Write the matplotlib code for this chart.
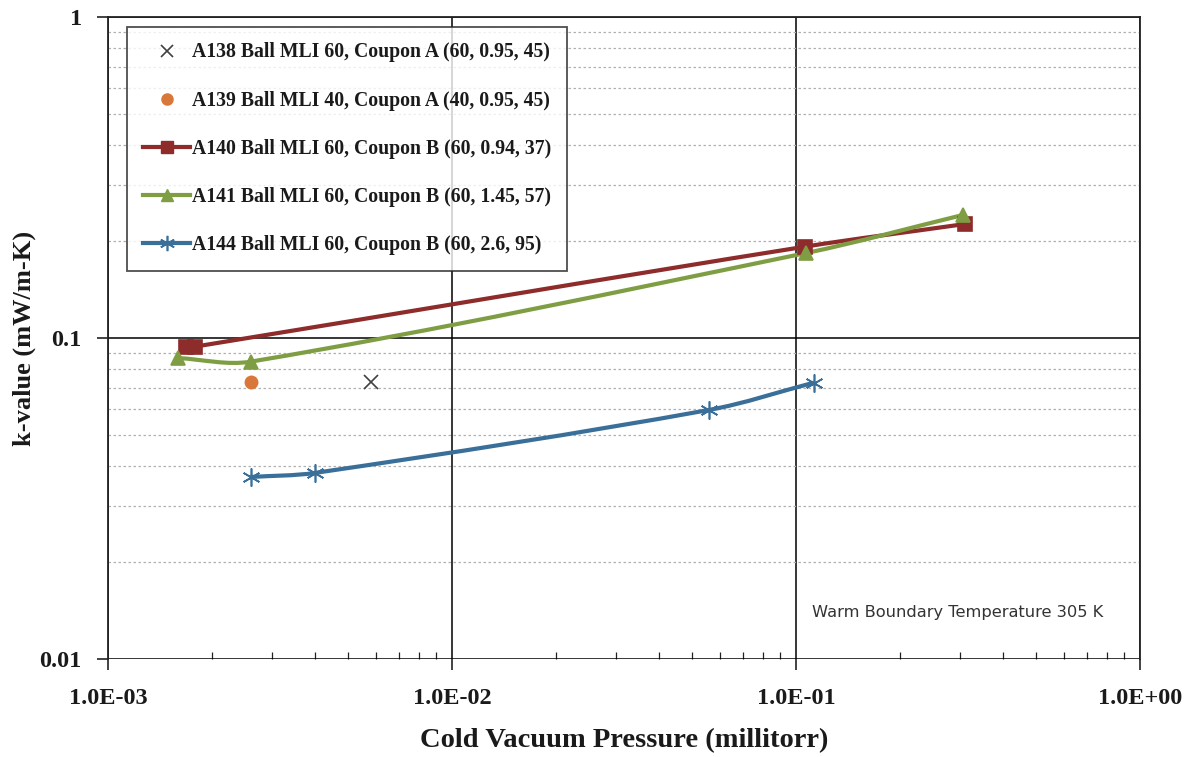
import numpy as np
import matplotlib
matplotlib.use("Agg")
from matplotlib import pyplot as plt
from matplotlib.path import Path
from matplotlib.patches import PathPatch
from matplotlib.ticker import FixedLocator, LogLocator, NullFormatter
from matplotlib.lines import Line2D

# data (pressure in millitorr, k in mW/m-K)
a138_p = [0.0058]
a138_k = [0.073]
a139_p = [0.0026]
a139_k = [0.073]
a140_p = [0.00168, 0.00179, 0.106, 0.31]
a140_k = [0.0935, 0.094, 0.1925, 0.2265]
a141_p = [0.0016, 0.0026, 0.107, 0.305]
a141_k = [0.0866, 0.0844, 0.184, 0.2416]
a144_p = [0.0026, 0.0040, 0.0559, 0.1127]
a144_k = [0.0369, 0.0380, 0.0597, 0.0726]

labels = ["A138 Ball MLI 60, Coupon A (60, 0.95, 45)",
          "A139 Ball MLI 40, Coupon A (40, 0.95, 45)",
          "A140 Ball MLI 60, Coupon B (60, 0.94, 37)",
          "A141 Ball MLI 60, Coupon B (60, 1.45, 57)",
          "A144 Ball MLI 60, Coupon B (60, 2.6, 95)"]
x_ticks = [1e-3, 1e-2, 1e-1, 1e0]
x_ticklabels = ["1.0E-03", "1.0E-02", "1.0E-01", "1.0E+00"]
y_ticks = [0.01, 0.1, 1]
y_ticklabels = ["0.01", "0.1", "1"]

c_x = "#404040"
c_orange = "#D9773A"
c_red = "#8E2B2B"
c_green = "#7F9E44"
c_blue = "#3A6F99"

serif = "Liberation Serif"


def smooth_path(xs, ys, k=1 / 3.0):
    # smoothed line like excel: bezier through the points, done in log space
    pts = np.column_stack([np.log10(xs), np.log10(ys)])
    # scale so a decade is about as long in x as in y on screen
    sc = np.array([344.0, 321.0])
    p = pts * sc
    n = len(p)
    tang = []
    for i in range(n):
        a = p[max(i - 1, 0)]
        b = p[min(i + 1, n - 1)]
        t = b - a
        tang.append(t / np.hypot(*t))
    verts = [p[0]]
    codes = [Path.MOVETO]
    for i in range(n - 1):
        d = np.hypot(*(p[i + 1] - p[i]))
        c1 = p[i] + tang[i] * d * k
        c2 = p[i + 1] - tang[i + 1] * d * k
        verts += [c1, c2, p[i + 1]]
        codes += [Path.CURVE4] * 3
    verts = 10 ** (np.array(verts) / sc)
    return Path(verts, codes)


fig = plt.figure(figsize=(11.95, 7.57), dpi=100)
ax = fig.add_axes([0.0904, 0.1295, 0.8636, 0.8480])
ax.set_xscale("log")
ax.set_yscale("log")
ax.set_xlim(1e-3, 1)
ax.set_ylim(0.01, 1)

# grid
ax.yaxis.set_minor_locator(LogLocator(base=10, subs=np.arange(2, 10)))
ax.xaxis.set_minor_locator(LogLocator(base=10, subs=np.arange(2, 10)))
ax.grid(True, which="major", color="black", lw=1.1)
ax.grid(True, which="minor", axis="y", color="#b0b0b0", lw=0.9, ls=(0, (2, 2)))
ax.grid(False, which="minor", axis="x")
ax.set_axisbelow(True)

for name in ["top", "right", "left"]:
    ax.spines[name].set_linewidth(1.3)
    ax.spines[name].set_color("#222222")
ax.spines["bottom"].set_visible(False)

ax.xaxis.set_major_locator(FixedLocator(x_ticks))
ax.set_xticklabels(x_ticklabels)
ax.yaxis.set_major_locator(FixedLocator(y_ticks))
ax.set_yticklabels(y_ticklabels)
ax.xaxis.set_minor_formatter(NullFormatter())
ax.yaxis.set_minor_formatter(NullFormatter())
ax.tick_params(which="major", direction="out", length=8, width=1.2, color="#222222")
ax.tick_params(which="minor", direction="in", length=5, width=0.9, color="#222222")
ax.tick_params(axis="y", which="minor", length=0)
ax.tick_params(axis="x", which="major", pad=13)
ax.tick_params(axis="y", which="major", pad=11)
for lab in ax.get_xticklabels() + ax.get_yticklabels():
    lab.set_fontfamily(serif)
    lab.set_fontweight("bold")
    lab.set_fontsize(17.5)
    lab.set_color("#1a1a1a")

# series
ax.plot(a138_p, a138_k, ls="none", marker="x", ms=10, mew=1.2, color=c_x, zorder=5)
ax.plot(a139_p, a139_k, ls="none", marker="o", ms=9, color=c_orange, zorder=5)

for xs, ys, col, mk, ms in [(a140_p, a140_k, c_red, "s", 10),
                            (a141_p, a141_k, c_green, "^", 10),
                            (a144_p, a144_k, c_blue, (6, 2, 0), 13)]:
    ax.add_patch(PathPatch(smooth_path(xs, ys), fill=False, edgecolor=col,
                           lw=3, zorder=4, transform=ax.transData))
    ax.plot(xs, ys, ls="none", marker=mk, ms=ms, color=col, mec=col,
            mew=1.2, zorder=5)

handles = [
    Line2D([], [], ls="none", marker="x", ms=9, mew=1.2, color=c_x),
    Line2D([], [], ls="none", marker="o", ms=8, color=c_orange),
    Line2D([], [], ls="-", lw=3, marker="s", ms=9, color=c_red),
    Line2D([], [], ls="-", lw=3, marker="^", ms=9, color=c_green),
    Line2D([], [], ls="-", lw=3, marker=(6, 2, 0), ms=11, mew=1.2, color=c_blue),
]
leg = ax.legend(handles, labels, loc="upper left", bbox_to_anchor=(0.0185, 0.985),
                prop={"family": serif, "weight": "bold", "size": 14.2},
                frameon=True, fancybox=False, edgecolor="#222222",
                labelspacing=1.43, handlelength=2.4, handletextpad=0.1,
                borderpad=0.8, borderaxespad=0)
leg.get_frame().set_linewidth(1.3)
for t in leg.get_texts():
    t.set_color("#1a1a1a")

ax.text(0.682, 0.0717, "Warm Boundary Temperature 305 K", transform=ax.transAxes,
        fontsize=11.7, family="DejaVu Sans", color="#333333", va="center")

ax.set_xlabel("Cold Vacuum Pressure (millitorr)", family=serif, weight="bold",
              fontsize=20.5, labelpad=14, color="#1a1a1a")
ax.set_ylabel("k-value (mW/m-K)", family=serif, weight="bold",
              fontsize=19, color="#1a1a1a")
ax.yaxis.set_label_coords(-0.081, 0.5)
ax.yaxis.label.set_va("center")

fig.savefig("out.png", dpi=100)
